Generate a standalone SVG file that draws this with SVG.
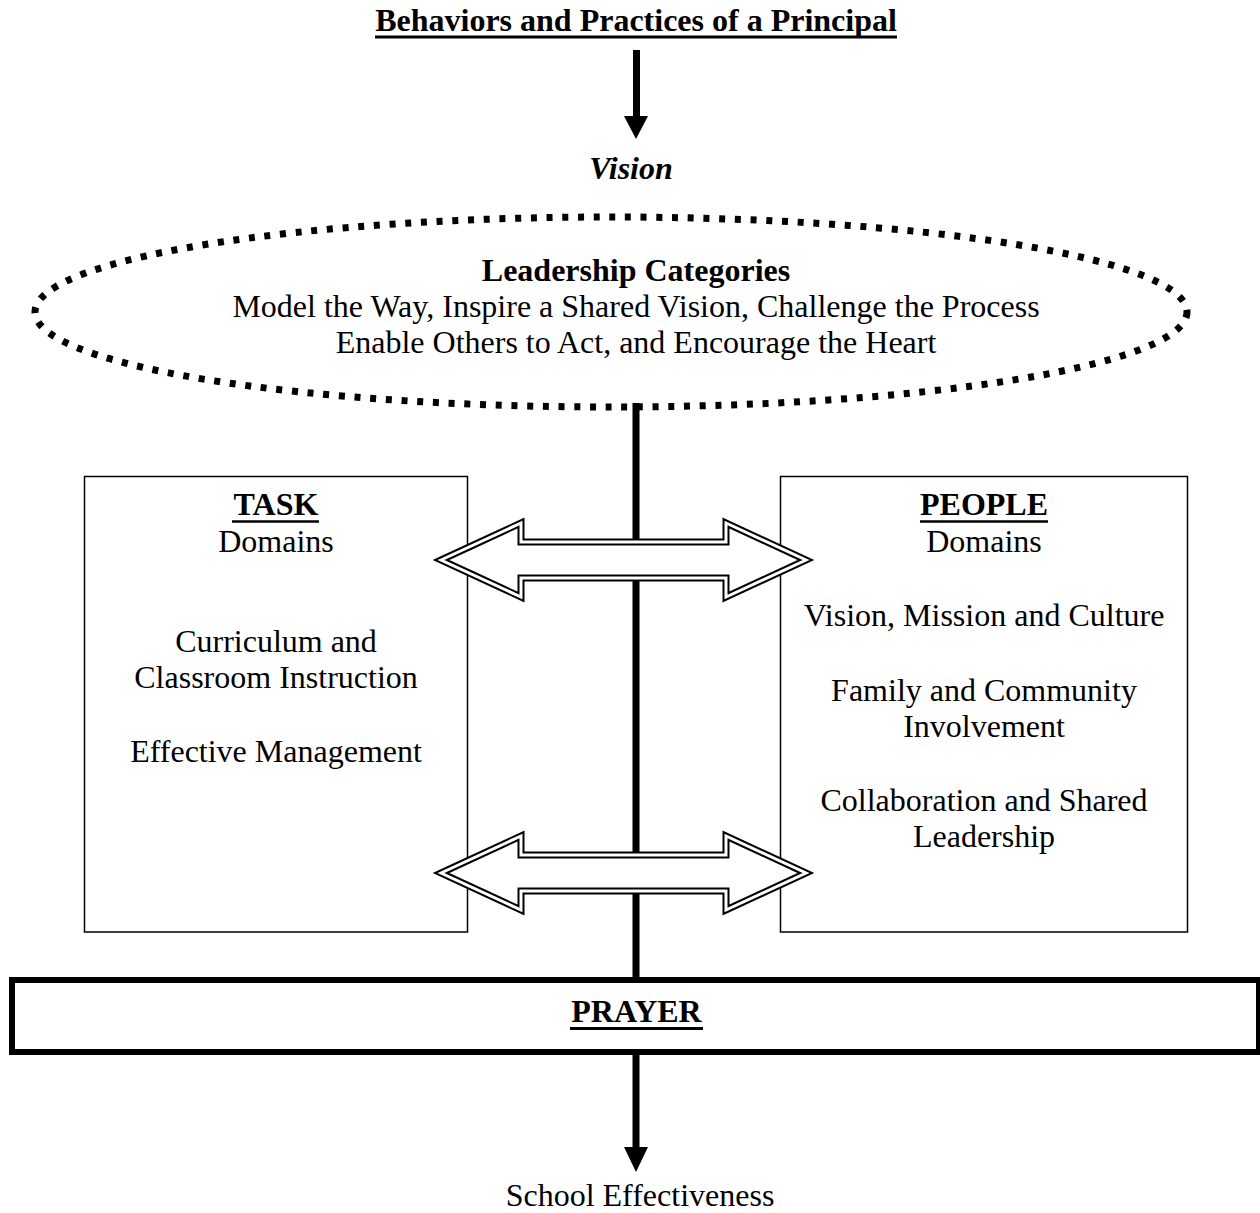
<svg xmlns="http://www.w3.org/2000/svg" width="1260" height="1213" viewBox="0 0 1260 1213">
<style>
text{font-family:"Liberation Serif","Times New Roman",serif;font-size:32px;fill:#000;text-anchor:middle}
.b{font-weight:bold}
.u{stroke:#000;stroke-width:3}
.box{fill:#fff;stroke:#000;stroke-width:1.5}
.shaft{stroke:#000;stroke-width:7}
.dbl{fill:#fff;stroke:#000;stroke-width:7;stroke-linejoin:miter}
.dbl2{fill:none;stroke:#fff;stroke-width:3;stroke-linejoin:miter}
</style>
<defs>
<polygon id="dblarrow" points="441,0 521,-37 521,-18 726,-18 726,-37 806,0 726,37 726,18 521,18 521,37"/>
</defs>
<rect width="1260" height="1213" fill="#fff"/>

<g id="title">
<text class="b" x="636" y="31">Behaviors and Practices of a Principal</text>
<line class="u" x1="375" y1="37" x2="897" y2="37"/>
</g>

<g id="vision">
<text class="b" x="631" y="179" font-style="italic">Vision</text>
</g>

<g id="task">
<rect class="box" x="84.5" y="476.5" width="383" height="455.5"/>
<text class="b" x="276" y="515">TASK</text>
<line x1="232" y1="521.5" x2="319" y2="521.5" stroke="#000" stroke-width="2.5"/>
<text x="276" y="552">Domains</text>
<text x="276" y="652">Curriculum and</text>
<text x="276" y="688">Classroom Instruction</text>
<text x="276" y="762">Effective Management</text>
</g>

<g id="people">
<rect class="box" x="780.5" y="476.5" width="407" height="455.5"/>
<text class="b" x="984" y="515">PEOPLE</text>
<line x1="920" y1="521.5" x2="1048" y2="521.5" stroke="#000" stroke-width="2.5"/>
<text x="984" y="552">Domains</text>
<text x="984" y="626">Vision, Mission and Culture</text>
<text x="984" y="701">Family and Community</text>
<text x="984" y="737">Involvement</text>
<text x="984" y="811">Collaboration and Shared</text>
<text x="984" y="847">Leadership</text>
</g>

<g id="connectors">
<line class="shaft" x1="636.5" y1="50" x2="636.5" y2="117"/>
<polygon points="624,116 648,116 636,139" fill="#000"/>
<line class="shaft" x1="636" y1="403" x2="636" y2="980"/>
<line class="shaft" x1="636" y1="1052" x2="636" y2="1148"/>
<polygon points="624,1147 648,1147 636,1172" fill="#000"/>
<g transform="translate(0,560)"><use href="#dblarrow" class="dbl"/><use href="#dblarrow" class="dbl2"/></g>
<g transform="translate(0,873)"><use href="#dblarrow" class="dbl"/><use href="#dblarrow" class="dbl2"/></g>
</g>

<g id="leadership">
<ellipse cx="611" cy="312" rx="576" ry="95" fill="none" stroke="#000" stroke-width="7" stroke-dasharray="6 9.7"/>
<text class="b" x="636" y="281">Leadership Categories</text>
<text x="636" y="317">Model the Way, Inspire a Shared Vision, Challenge the Process</text>
<text x="636" y="353">Enable Others to Act, and Encourage the Heart</text>
</g>

<g id="prayer">
<rect x="12" y="980" width="1247" height="72" fill="#fff" stroke="#000" stroke-width="6"/>
<text class="b" x="636.5" y="1022">PRAYER</text>
<line class="u" x1="570" y1="1028.5" x2="703" y2="1028.5"/>
</g>

<g id="outcome">
<text x="640" y="1206">School Effectiveness</text>
</g>
</svg>
